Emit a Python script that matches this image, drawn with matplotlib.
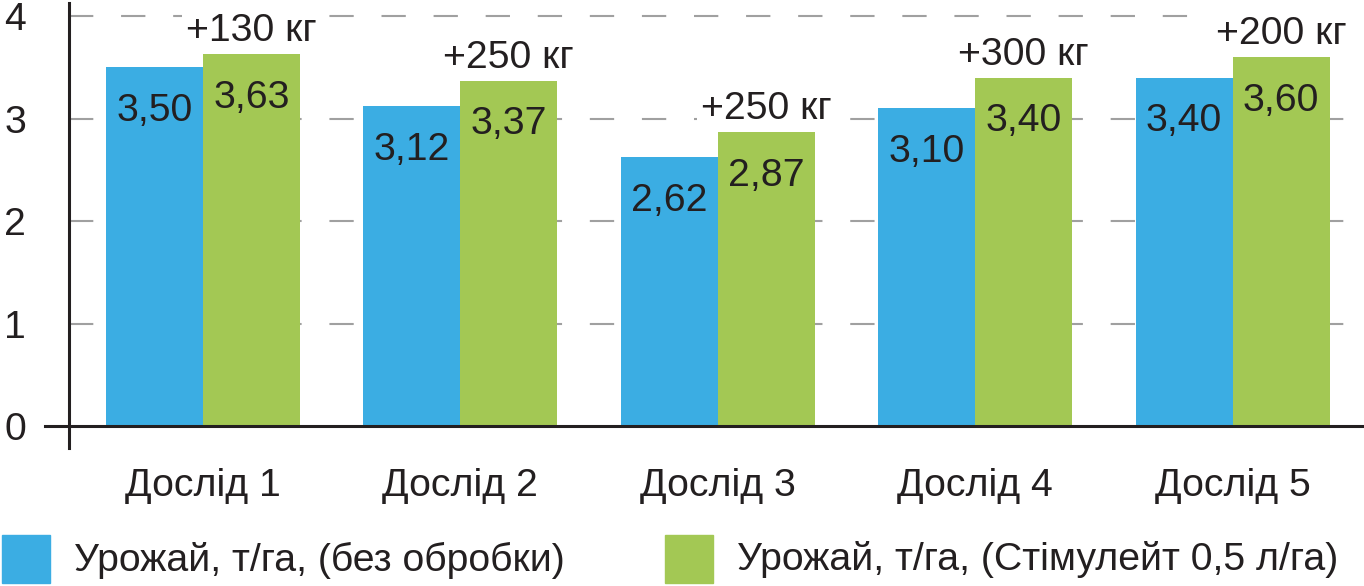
import matplotlib
matplotlib.use('Agg')
import matplotlib.pyplot as plt
from matplotlib.patches import Rectangle
import numpy as np

plt.rcParams['font.family'] = ['Liberation Sans', 'DejaVu Sans']
plt.rcParams['lines.scale_dashes'] = False

categories = ['Дослід 1', 'Дослід 2', 'Дослід 3', 'Дослід 4', 'Дослід 5']
base_yield = [3.50, 3.12, 2.62, 3.10, 3.40]
treated_yield = [3.63, 3.37, 2.87, 3.40, 3.60]
base_labels = ['3,50', '3,12', '2,62', '3,10', '3,40']
treated_labels = ['3,63', '3,37', '2,87', '3,40', '3,60']
gain_labels = ['+130 кг', '+250 кг', '+250 кг', '+300 кг', '+200 кг']
legend_labels = ['Урожай, т/га, (без обробки)', 'Урожай, т/га, (Стімулейт 0,5 л/га)']

blue = '#3BADE3'
green = '#A3C854'
ink = '#231F20'
fs = 28.3

W, H = 1364, 586
fig = plt.figure(figsize=(W / 100, H / 100), dpi=100)
ax = fig.add_axes([69 / W, 160 / H, (W - 69) / W, (426 - 3) / H])

x = np.arange(len(categories))
bw = 0.377
ax.bar(x - bw / 2, base_yield, bw, color=blue, zorder=2)
ax.bar(x + bw / 2, treated_yield, bw, color=green, zorder=2)

ax.set_xlim(-0.52, 4.51)
ax.set_ylim(0, 4.127)

for v in [1, 2, 3, 4]:
    ax.axhline(v, color='#A0A0A0', lw=1.5, dashes=(17.5, 20), zorder=1)

for i in range(len(categories)):
    ax.annotate(base_labels[i], (x[i] - bw / 2, base_yield[i]), xytext=(0, -31.5),
                textcoords='offset points', ha='center', va='center',
                fontsize=fs, color=ink, zorder=3)
    ax.annotate(treated_labels[i], (x[i] + bw / 2, treated_yield[i]), xytext=(0, -31.5),
                textcoords='offset points', ha='center', va='center',
                fontsize=fs, color=ink, zorder=3)
    ax.annotate(gain_labels[i], (x[i] + bw / 2, treated_yield[i]), xytext=(0, 16.5),
                textcoords='offset points', ha='center', va='center',
                fontsize=fs, color=ink, zorder=3,
                bbox=dict(boxstyle='square,pad=0.1', fc='white', ec='none'))

for s in ax.spines.values():
    s.set_visible(False)
# axis lines drawn by hand so they can run past the origin
ax.plot([-0.52, -0.52], [-0.215, 4.127], color=ink, lw=2.2, clip_on=False, zorder=4)
ax.plot([-0.613, 4.51], [0, 0], color=ink, lw=2.2, clip_on=False, zorder=4)

ax.set_yticks([0, 1, 2, 3, 4])
ax.set_yticklabels(['0', '1', '2', '3', '4'], fontsize=fs, color=ink)
ax.set_xticks(x)
ax.set_xticklabels(categories, fontsize=fs, color=ink)
ax.tick_params(axis='y', length=0, pad=31)
ax.tick_params(axis='x', length=0, pad=30)

# legend
for j, (c, lab) in enumerate(zip([blue, green], legend_labels)):
    x0 = [2, 665][j]
    fig.add_artist(Rectangle((x0 / W, (H - 583) / H), 48 / W, 48 / H,
                             transform=fig.transFigure, color=c))
    fig.text((x0 + 72) / W, (H - 560) / H, lab, fontsize=fs, color=ink,
             ha='left', va='center')

fig.savefig('out.png', dpi=100)
